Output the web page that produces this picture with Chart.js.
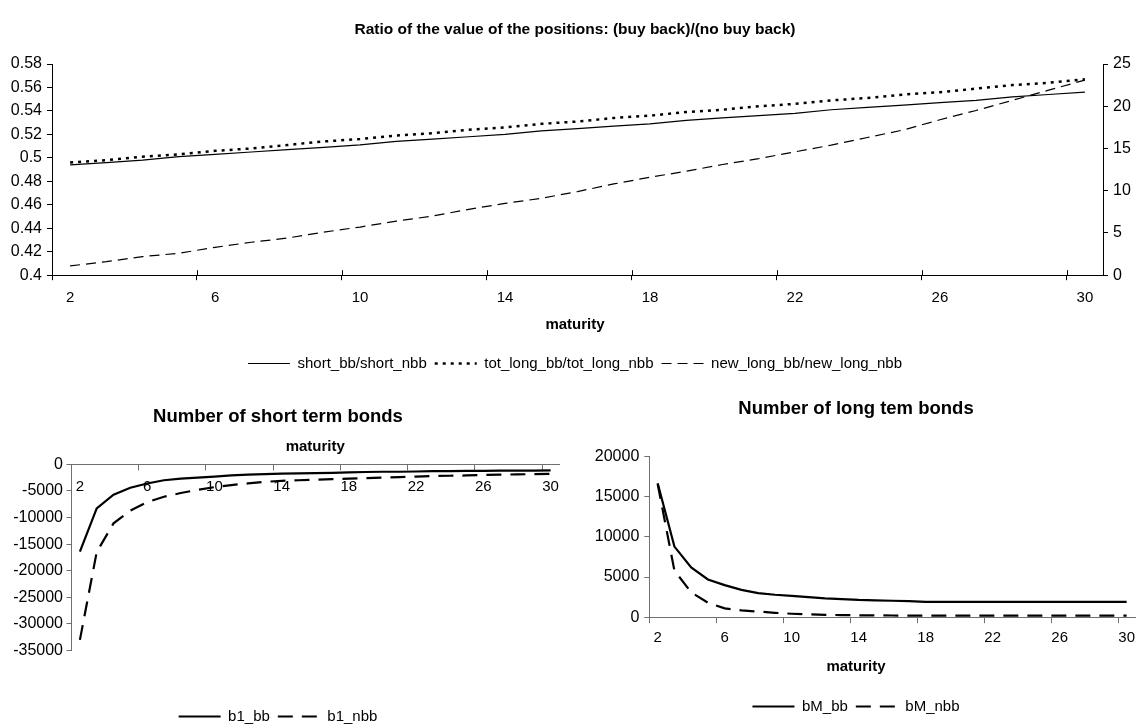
<!DOCTYPE html>
<html>
<head>
<meta charset="utf-8">
<title>Buy back positions</title>
<script src="https://cdn.jsdelivr.net/npm/chart.js@4.4.1/dist/chart.umd.min.js"></script>
<style>
  html, body { margin: 0; padding: 0; background: #fff; overflow: hidden; }
  body { width: 1143px; height: 728px; position: relative; }
  canvas { position: absolute; }
  #ratioChart { left: 7px; top: 0; }
  #shortChart { left: -3px; top: 385px; }
  #longChart { left: 577px; top: 385px; }
</style>
</head>
<body>
<canvas id="ratioChart" width="1136" height="381"></canvas>
<canvas id="shortChart" width="576" height="349"></canvas>
<canvas id="longChart" width="566" height="339"></canvas>
<script>
// maturities on the x axis and the ones that get a label
const maturity = [2, 3, 4, 5, 6, 7, 8, 9, 10, 11, 12, 13, 14, 15, 16, 17, 18, 19, 20, 21, 22, 23, 24, 25, 26, 27, 28, 29, 30];
const maturityTicks = [2, 6, 10, 14, 18, 22, 26, 30];

// ratios (buy back)/(no buy back)
const shortRatio = [0.494, 0.496, 0.498, 0.501, 0.503, 0.505, 0.507, 0.509, 0.511, 0.514, 0.516, 0.518, 0.520, 0.523, 0.525,
  0.527, 0.529, 0.532, 0.534, 0.536, 0.538, 0.541, 0.543, 0.545, 0.547, 0.549, 0.552, 0.554, 0.556];
const totLongRatio = [0.496, 0.498, 0.501, 0.503, 0.506, 0.508, 0.511, 0.514, 0.516, 0.519, 0.521, 0.524, 0.526, 0.529, 0.531,
  0.534, 0.536, 0.539, 0.541, 0.544, 0.546, 0.549, 0.551, 0.554, 0.556, 0.559, 0.562, 0.564, 0.567];
const newLongRatio = [1.1, 1.6, 2.2, 2.6, 3.3, 3.9, 4.4, 5.1, 5.7, 6.4, 7.0, 7.8, 8.5, 9.1, 9.9,
  10.8, 11.6, 12.3, 13.1, 13.8, 14.6, 15.4, 16.3, 17.2, 18.4, 19.5, 20.7, 21.9, 23.1];

// number of short term bonds
const b1Bb = [-16400, -8300, -5700, -4400, -3600, -3000, -2700, -2500, -2300, -2100, -1950, -1850, -1750, -1700, -1650,
  -1600, -1500, -1450, -1400, -1400, -1350, -1300, -1300, -1250, -1250, -1200, -1200, -1200, -1150];
const b1Nbb = [-33000, -16500, -11100, -8700, -7100, -6100, -5400, -4800, -4300, -3900, -3600, -3300, -3100, -3000, -2900,
  -2800, -2700, -2600, -2500, -2400, -2300, -2200, -2150, -2100, -2000, -1950, -1900, -1850, -1800];

// number of long term bonds
const bMBb = [16700, 8800, 6200, 4700, 4000, 3400, 3000, 2800, 2650, 2500, 2350, 2250, 2150, 2100, 2050,
  2000, 1900, 1900, 1900, 1900, 1900, 1900, 1900, 1900, 1900, 1900, 1900, 1900, 1900];
const bMNbb = [16600, 5800, 3100, 1800, 1100, 850, 700, 550, 430, 350, 300, 260, 240, 220, 210,
  200, 200, 200, 200, 200, 200, 200, 200, 200, 200, 200, 200, 200, 200];

// y axis ticks
const ratioTicks = [0.4, 0.42, 0.44, 0.46, 0.48, 0.5, 0.52, 0.54, 0.56, 0.58];
const newLongTicks = [0, 5, 10, 15, 20, 25];
const shortBondTicks = [-35000, -30000, -25000, -20000, -15000, -10000, -5000, 0];
const longBondTicks = [0, 5000, 10000, 15000, 20000];

const FONT = '"Liberation Sans", Arial, sans-serif';
Chart.defaults.font.family = FONT;
Chart.defaults.color = '#000';

function useTicks(list) {
  return scale => { scale.ticks = list.map(v => ({ value: v })); };
}

// tick marks only in front of every 4th maturity
function tickColor(axisColor) {
  return ctx => maturityTicks.includes(maturity[ctx.index]) ? axisColor : 'rgba(0,0,0,0)';
}

function maturityLabel(value, index) {
  return maturityTicks.includes(maturity[index]) ? String(maturity[index]) : '';
}

// legend lines take dash and width from their dataset
function lineLabels(chart) {
  const items = Chart.defaults.plugins.legend.labels.generateLabels(chart);
  items.forEach(item => {
    const ds = chart.data.datasets[item.datasetIndex];
    item.pointStyle = 'line';
    item.lineDash = ds.borderDash || [];
    item.lineWidth = ds.borderWidth;
    item.strokeStyle = '#000';
  });
  return items;
}

function legendLabels() {
  return {
    usePointStyle: true,
    pointStyleWidth: 42,
    padding: 8,
    color: '#000',
    font: { family: FONT, size: 15 },
    generateLabels: lineLabels
  };
}

function series(label, data, width, dash, axis) {
  return {
    label: label,
    data: data,
    yAxisID: axis || 'y',
    borderColor: '#000',
    backgroundColor: '#000',
    borderWidth: width,
    borderDash: dash,
    pointRadius: 0,
    tension: 0,
    fill: false
  };
}

function valueAxis(list, width, pad, axisColor, extra) {
  return Object.assign({
    min: list[0],
    max: list[list.length - 1],
    afterBuildTicks: useTicks(list),
    grid: { drawOnChartArea: false, tickLength: 5, color: axisColor },
    border: { color: axisColor, width: 1 },
    ticks: { padding: pad, color: '#000', font: { size: 16 }, callback: v => String(+v.toFixed(2)) },
    afterFit(scale) { scale.width = width; }
  }, extra || {});
}

// x ticks cross the axis on the ratio chart
const innerTicks = {
  id: 'innerTicks',
  afterDraw(chart) {
    const x = chart.scales.x;
    const area = chart.chartArea;
    const ctx = chart.ctx;
    ctx.save();
    ctx.strokeStyle = '#000';
    ctx.lineWidth = 1;
    ctx.beginPath();
    maturity.forEach((m, i) => {
      if (i === 0 || !maturityTicks.includes(m)) return;
      const px = Math.round((x.getPixelForTick(i - 1) + x.getPixelForTick(i)) / 2) + 0.5;
      ctx.moveTo(px, area.bottom - 5);
      ctx.lineTo(px, area.bottom);
    });
    ctx.stroke();
    ctx.restore();
  }
};

const BOND_AXIS = '#707070';

new Chart(document.getElementById('ratioChart'), {
  type: 'line',
  data: {
    labels: maturity,
    datasets: [
      series('short_bb/short_nbb', shortRatio, 1.2, []),
      series('tot_long_bb/tot_long_nbb', totLongRatio, 2.5, [3, 5]),
      series('new_long_bb/new_long_nbb', newLongRatio, 1.2, [10, 6], 'y1')
    ]
  },
  options: {
    responsive: false,
    devicePixelRatio: 1,
    animation: false,
    layout: { padding: 0 },
    plugins: {
      tooltip: { enabled: false },
      title: {
        display: true,
        text: 'Ratio of the value of the positions: (buy back)/(no buy back)',
        color: '#000',
        font: { family: FONT, size: 15.5, weight: 'bold' },
        padding: { top: 20.7, bottom: 24.7 }
      },
      legend: {
        position: 'bottom',
        labels: legendLabels(),
        title: {
          display: true,
          text: 'maturity',
          color: '#000',
          font: { family: FONT, size: 15, weight: 'bold' },
          padding: { top: 7.5, bottom: 12.3 }
        }
      }
    },
    scales: {
      x: {
        offset: true,
        grid: { offset: true, drawOnChartArea: false, tickLength: 5, color: tickColor('#000') },
        border: { color: '#000', width: 1 },
        ticks: { autoSkip: false, maxRotation: 0, padding: 8.5, color: '#000', font: { size: 15 }, callback: maturityLabel },
        afterFit(scale) { scale.height = 35; }
      },
      y: valueAxis(ratioTicks, 45, 5, '#000', { position: 'left' }),
      y1: valueAxis(newLongTicks, 40, 5, '#000', { position: 'right' })
    }
  },
  plugins: [innerTicks]
});

new Chart(document.getElementById('shortChart'), {
  type: 'line',
  data: {
    labels: maturity,
    datasets: [
      series('b1_bb', b1Bb, 2.2, []),
      series('b1_nbb', b1Nbb, 2.2, [15, 9])
    ]
  },
  options: {
    responsive: false,
    devicePixelRatio: 1,
    animation: false,
    layout: { padding: { right: 14 } },
    plugins: {
      tooltip: { enabled: false },
      title: {
        display: true,
        text: 'Number of short term bonds',
        color: '#000',
        font: { family: FONT, size: 18.5, weight: 'bold' },
        padding: { top: 20.6, bottom: 2.2 }
      },
      legend: {
        position: 'bottom',
        labels: legendLabels(),
        title: { display: true, text: ' ', font: { family: FONT, size: 13 }, padding: { top: 0, bottom: 34.9 } }
      }
    },
    scales: {
      x: {
        position: 'top',
        offset: true,
        grid: { offset: true, drawOnChartArea: false, tickLength: -6, color: tickColor(BOND_AXIS) },
        border: { color: BOND_AXIS, width: 1 },
        ticks: { mirror: true, autoSkip: false, maxRotation: 0, padding: 13.4, color: '#000', font: { size: 15 }, callback: maturityLabel },
        title: { display: true, text: 'maturity', color: '#000', font: { family: FONT, size: 15, weight: 'bold' }, padding: { top: 7.7, bottom: 0 } },
        afterFit(scale) { scale.height = 34.3; }
      },
      y: valueAxis(shortBondTicks, 74.5, 3.5, BOND_AXIS)
    }
  }
});

new Chart(document.getElementById('longChart'), {
  type: 'line',
  data: {
    labels: maturity,
    datasets: [
      series('bM_bb', bMBb, 2.2, []),
      series('bM_nbb', bMNbb, 2.2, [15, 9])
    ]
  },
  options: {
    responsive: false,
    devicePixelRatio: 1,
    animation: false,
    layout: { padding: { right: 8 } },
    plugins: {
      tooltip: { enabled: false },
      title: {
        display: true,
        text: 'Number of long tem bonds',
        color: '#000',
        font: { family: FONT, size: 18.5, weight: 'bold' },
        padding: { top: 13.2, bottom: 36.3 }
      },
      legend: {
        position: 'bottom',
        labels: legendLabels(),
        title: {
          display: true,
          text: 'maturity',
          color: '#000',
          font: { family: FONT, size: 15, weight: 'bold' },
          padding: { top: 11.8, bottom: 14 }
        }
      }
    },
    scales: {
      x: {
        offset: true,
        grid: { offset: true, drawOnChartArea: false, tickLength: 6, color: tickColor(BOND_AXIS) },
        border: { color: BOND_AXIS, width: 1 },
        ticks: { autoSkip: false, maxRotation: 0, padding: 5.3, color: '#000', font: { size: 15 }, callback: maturityLabel },
        afterFit(scale) { scale.height = 30; }
      },
      y: valueAxis(longBondTicks, 72.3, 5, BOND_AXIS)
    }
  }
});
</script>
</body>
</html>
